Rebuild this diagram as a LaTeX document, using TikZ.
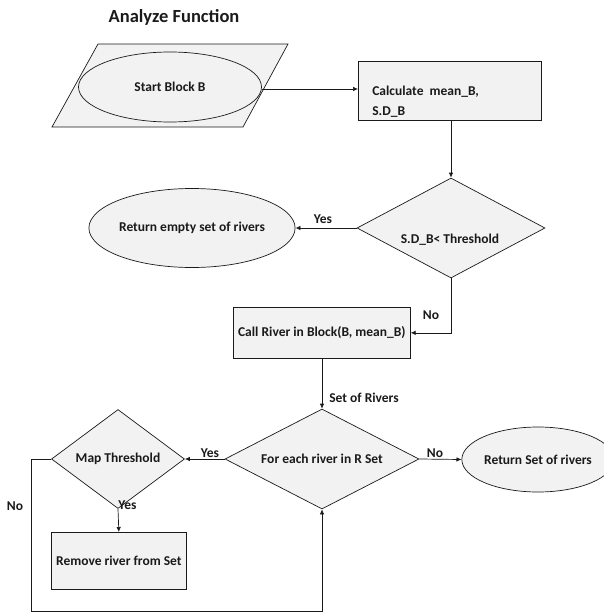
\documentclass[tikz,border=0pt]{standalone}
\usepackage{fontspec}
\setmainfont{Carlito}
\usetikzlibrary{shapes.geometric,arrows.meta}
\definecolor{shapegray}{HTML}{F2F2F2}
\definecolor{ink}{HTML}{1A1A1A}
\begin{document}
\begin{tikzpicture}[x=1pt,y=-1pt,
  font=\bfseries\fontsize{13.5}{16}\selectfont, text=ink,
  line width=0.7pt,
  shapefill/.style={draw=ink, fill=shapegray},
  box/.style={shapefill, rectangle, inner sep=0pt, anchor=north west},
  oval/.style={shapefill, ellipse, inner sep=0pt},
  choice/.style={shapefill, diamond, inner sep=0pt, shape aspect=2},
  flow/.style={draw=ink, -{Latex[length=5pt,width=4.5pt]}},
  tag/.style={inner sep=1pt}]
\useasboundingbox (0,0) rectangle (604,613);

% heading
\node[font=\bfseries\fontsize{18.5}{22}\selectfont] (title) at (174,17) {Analyze Function};

% input block: parallelogram holding the start oval
\filldraw[shapefill] (98,44) -- (288,44) -- (243,127) -- (52,127) -- cycle;
\node[oval, minimum width=183, minimum height=70] (start) at (170,87) {Start Block B};

% statistics of the block (two lines set low in the box)
\node[box, minimum width=183, minimum height=59] (calc) at (358,61) {};
\node[anchor=north west, align=left, inner sep=0pt, font=\bfseries\fontsize{13.5}{20}\selectfont]
  (calctext) at (372,86) {Calculate\ \ mean\_B,\\S.D\_B};

% spread test
\node[choice, minimum width=188, minimum height=100] (dec1) at (451,228) {};
\node (dec1text) at (450,240) {S.D\_B< Threshold};
\node[oval, minimum width=192, minimum height=79] (empty) at (192,228) {Return empty set of rivers};

% river search
\node[box, minimum width=177, minimum height=51] (call) at (233,307) {Call River in Block(B, mean\_B)};

% loop over the rivers
\node[choice, minimum width=194, minimum height=100] (dec2) at (322,459) {For each river in R Set};
\node[oval, minimum width=152, minimum height=65] (retset) at (538,459.5) {Return Set of rivers};
\node[choice, minimum width=133, minimum height=99] (map) at (118,459) {Map Threshold};
\node[box, minimum width=135, minimum height=57] (remove) at (51,532) {Remove river from Set};
\coordinate (loopbl) at (31,611);

% connectors
\draw[flow] (start.east |- 0,89) -- (calc.west |- 0,89);
\draw[flow] (calc.south -| dec1.north) -- (dec1.north);
\draw[flow] (dec1.west) -- (empty.east);
\draw[flow] (dec1.south) |- (call.east);
\draw[flow] (call.south -| dec2.north) -- (dec2.north);
\draw[flow] (dec2.east) -- (retset.west);
\draw[flow] (dec2.west) -- (map.east);
\draw[flow] (map.south) -- (remove.north);
\draw[flow] (map.west) -| (loopbl) -| (dec2.south);

% connector labels
\node[tag] (yes1) at (323,219) {Yes};
\node[tag] (no1) at (431,315) {No};
\node[tag, anchor=west] (setlbl) at (328,398) {Set of Rivers};
\node[tag] (no2) at (435,453) {No};
\node[tag] (yes2) at (210,453) {Yes};
\node[tag, anchor=west] (yes3) at (117,505) {Yes};
\node[tag] (no3) at (15,506) {No};
\end{tikzpicture}
\end{document}
